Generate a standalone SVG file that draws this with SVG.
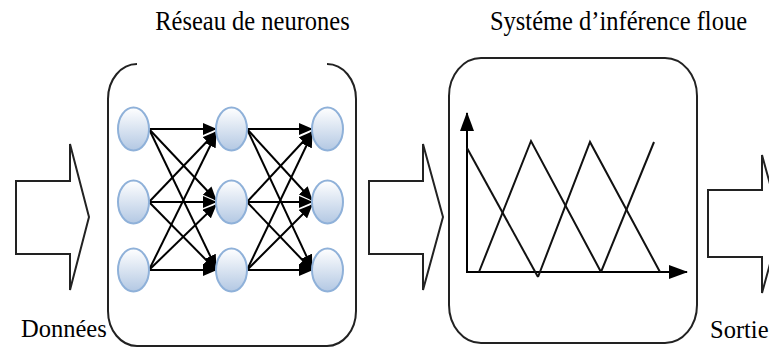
<svg xmlns="http://www.w3.org/2000/svg" width="769" height="349" viewBox="0 0 769 349">
  <defs>
    <linearGradient id="neuronFill" x1="0" y1="0" x2="0" y2="1">
      <stop offset="0" stop-color="#ffffff"/>
      <stop offset="1" stop-color="#b3c8e3"/>
    </linearGradient>
    <marker id="synapseHead" markerUnits="userSpaceOnUse" markerWidth="14" markerHeight="12" refX="13" refY="6" orient="auto">
      <path d="M0,0 L14,6 L0,12 z" fill="#000"/>
    </marker>
    <marker id="axisHead" markerUnits="userSpaceOnUse" markerWidth="19" markerHeight="14" refX="18" refY="7" orient="auto">
      <path d="M0,0 L19,7 L0,14 z" fill="#000"/>
    </marker>
  </defs>
  <style>
    .label { font-size: 24.5px; fill: #000; }
    .block-arrow { fill: #fff; stroke: #222; stroke-width: 2; stroke-linejoin: miter; }
    .frame { fill: none; stroke: #222; stroke-width: 2; }
    .neuron { fill: url(#neuronFill); stroke: #8fb1d9; stroke-width: 2; }
    .synapse { stroke: #000; stroke-width: 2; fill: none; marker-end: url(#synapseHead); }
    .curve { stroke: #111; stroke-width: 2; fill: none; stroke-linejoin: miter; }
    .axis { stroke: #000; stroke-width: 2; fill: none; marker-end: url(#axisHead); }
  </style>

  <rect width="769" height="349" fill="#fff"/>

  <!-- Titles (slightly tall lettering) and input/output labels -->
  <g id="labels" font-family="'Liberation Serif', 'Times New Roman', 'DejaVu Serif', serif">
    <text class="label" transform="translate(252.5,30) scale(1,1.15)" text-anchor="middle">Réseau de neurones</text>
    <text class="label" transform="translate(618.5,30) scale(1,1.15)" text-anchor="middle">Systéme d’inférence floue</text>
    <text class="label" x="21" y="337">Données</text>
    <text class="label" x="710" y="338">Sortie</text>
  </g>

  <!-- Block arrows linking the stages -->
  <g id="connectors">
    <path id="input-arrow" class="block-arrow" d="M16,181 L70,181 L70,144 L89,217 L70,290 L70,254 L16,254 Z"/>
    <path id="middle-arrow" class="block-arrow" d="M369,181 L423,181 L423,144 L443,217 L423,290 L423,254 L369,254 Z"/>
    <path id="output-arrow" class="block-arrow" d="M708,190 L762,190 L762,155 L781,224 L762,293 L762,257 L708,257 Z"/>
  </g>

  <!-- Neural network stage -->
  <g id="neural-network">
    <path class="frame" d="M137,64 A29,35 0 0 0 108,99 L108,311 A29,35 0 0 0 137,346 L327,346 A29,35 0 0 0 356,311 L356,99 A29,35 0 0 0 327,64"/>
    <g id="synapses">
      <!-- layer 1 to layer 2 -->
      <line class="synapse" x1="149" y1="129" x2="216" y2="129"/>
      <line class="synapse" x1="149" y1="129" x2="216" y2="200"/>
      <line class="synapse" x1="149" y1="129" x2="216" y2="268"/>
      <line class="synapse" x1="149" y1="202" x2="216" y2="132"/>
      <line class="synapse" x1="149" y1="202" x2="216" y2="202"/>
      <line class="synapse" x1="149" y1="202" x2="216" y2="270"/>
      <line class="synapse" x1="149" y1="270" x2="216" y2="134"/>
      <line class="synapse" x1="149" y1="270" x2="216" y2="205"/>
      <line class="synapse" x1="149" y1="270" x2="216" y2="270"/>
      <!-- layer 2 to layer 3 -->
      <line class="synapse" x1="247" y1="129" x2="312" y2="129"/>
      <line class="synapse" x1="247" y1="129" x2="312" y2="200"/>
      <line class="synapse" x1="247" y1="129" x2="312" y2="268"/>
      <line class="synapse" x1="247" y1="202" x2="312" y2="132"/>
      <line class="synapse" x1="247" y1="202" x2="312" y2="202"/>
      <line class="synapse" x1="247" y1="202" x2="312" y2="270"/>
      <line class="synapse" x1="247" y1="270" x2="312" y2="134"/>
      <line class="synapse" x1="247" y1="270" x2="312" y2="205"/>
      <line class="synapse" x1="247" y1="270" x2="312" y2="270"/>
    </g>
    <g id="neurons">
      <ellipse class="neuron" cx="133.5" cy="129" rx="15.5" ry="21.5"/>
      <ellipse class="neuron" cx="133.5" cy="202" rx="15.5" ry="21.5"/>
      <ellipse class="neuron" cx="133.5" cy="270" rx="15.5" ry="21.5"/>
      <ellipse class="neuron" cx="231.5" cy="129" rx="15.5" ry="21.5"/>
      <ellipse class="neuron" cx="231.5" cy="202" rx="15.5" ry="21.5"/>
      <ellipse class="neuron" cx="231.5" cy="270" rx="15.5" ry="21.5"/>
      <ellipse class="neuron" cx="327.5" cy="129" rx="15.5" ry="21.5"/>
      <ellipse class="neuron" cx="327.5" cy="202" rx="15.5" ry="21.5"/>
      <ellipse class="neuron" cx="327.5" cy="270" rx="15.5" ry="21.5"/>
    </g>
  </g>

  <!-- Fuzzy inference stage -->
  <g id="fuzzy-inference">
    <rect class="frame" x="449" y="58" width="248" height="285" rx="32" ry="38"/>
    <line class="axis" x1="467" y1="273" x2="467" y2="113"/>
    <line class="axis" x1="466" y1="272" x2="687" y2="272"/>
    <polyline class="curve" points="467,148 538,277"/>
    <polyline class="curve" points="479,272 531,141 601,272"/>
    <polyline class="curve" points="538,277 590,142 660,272"/>
    <polyline class="curve" points="601,272 654,142"/>
  </g>
</svg>
